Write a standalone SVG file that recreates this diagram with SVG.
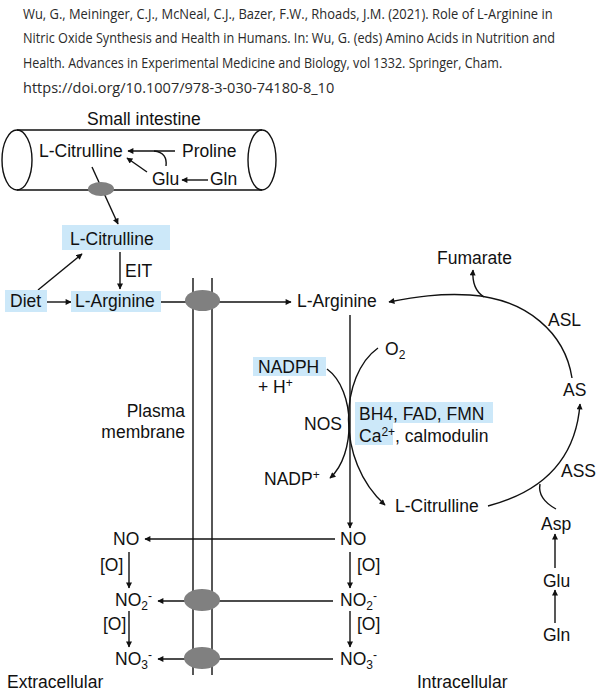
<svg xmlns="http://www.w3.org/2000/svg" width="598" height="700" viewBox="0 0 598 700">
<style>
.cit{font-family:"Open Sans","Liberation Sans",sans-serif;font-size:15px;fill:#2a2a2a}
.t{font-family:"Liberation Sans",Arial,sans-serif;font-size:17.5px;fill:#111}
.ln{fill:none;stroke:#111;stroke-width:1.4}
.ar{fill:none;stroke:#111;stroke-width:1.4;marker-end:url(#ah)}
.hl{fill:#cce8f9}
.tp{fill:#808080}
.sub{font-size:12px}
</style>
<defs>
<marker id="ah" viewBox="0 0 10 10" refX="9" refY="5" markerWidth="7" markerHeight="6" markerUnits="userSpaceOnUse" orient="auto">
<path d="M0,0 L10,5 L0,10 z" fill="#111"/>
</marker>
</defs>
<rect width="598" height="700" fill="#fff"/>

<g id="citation" transform="translate(23,0) scale(0.8,1)">
<text class="cit" x="0" y="18.7" textLength="662" lengthAdjust="spacingAndGlyphs">Wu, G., Meininger, C.J., McNeal, C.J., Bazer, F.W., Rhoads, J.M. (2021). Role of L-Arginine in</text>
<text class="cit" x="0" y="43.5" textLength="665" lengthAdjust="spacingAndGlyphs">Nitric Oxide Synthesis and Health in Humans. In: Wu, G. (eds) Amino Acids in Nutrition and</text>
<text class="cit" x="0" y="68.3" textLength="599" lengthAdjust="spacingAndGlyphs">Health. Advances in Experimental Medicine and Biology, vol 1332. Springer, Cham.</text>
<text class="cit" x="0" y="93.2" textLength="389" lengthAdjust="spacingAndGlyphs">https://doi.org/10.1007/978-3-030-74180-8_10</text>
</g>

<g id="connectors">
<path class="ar" d="M175,151 L128,151"/>
<path class="ln" d="M166,166 C167,158 164,152 154,151"/>
<path class="ar" d="M147,172 L127,158"/>
<path class="ar" d="M208,180 L182,180"/>
<path class="ar" d="M92,167 L118,224"/>
<path class="ar" d="M38,290 L82,254"/>
<path class="ar" d="M120,252 L120,289"/>
<path class="ar" d="M47,302 L71,302"/>
<path class="ar" d="M161,302 L291,302"/>
<path class="ar" d="M572,378 C565,333 527,299 470,295 C440,293 415,297 389,302"/>
<path class="ar" d="M484,297 C476,292 472,284 473,270"/>
<path class="ar" d="M350,315 L350,528"/>
<path class="ar" d="M327,369 C356,390 356,455 330,478"/>
<path class="ar" d="M378,348 C340,375 335,460 385,505"/>
<path class="ar" d="M488,506 C530,495 575,470 580,404"/>
<path class="ln" d="M540,484 C538,495 545,503 556,509"/>
<path class="ar" d="M555,568 L555,534"/>
<path class="ar" d="M555,623 L555,590"/>
<path class="ar" d="M335,539 L145,539"/>
<path class="ar" d="M333,601 L158,601"/>
<path class="ar" d="M333,659 L158,659"/>
<path class="ar" d="M129,552 L129,588"/>
<path class="ar" d="M129,611 L129,647"/>
<path class="ar" d="M350,552 L350,588"/>
<path class="ar" d="M350,611 L350,647"/>
</g>

<g id="small-intestine">
<ellipse class="ln" cx="17" cy="160" rx="15" ry="30"/>
<ellipse class="ln" cx="262" cy="160" rx="14" ry="30"/>
<path class="ln" d="M17,130 L262,130 M17,190 L262,190"/>
<ellipse class="tp" cx="101" cy="189" rx="13" ry="7"/>
<text class="t" x="87" y="125">Small intestine</text>
</g>
<g id="tube-citrulline"><text class="t" x="39" y="157">L-Citrulline</text></g>
<g id="proline"><text class="t" x="182" y="157">Proline</text></g>
<g id="tube-glu"><text class="t" x="152" y="185">Glu</text></g>
<g id="tube-gln"><text class="t" x="210" y="185">Gln</text></g>

<g id="citrulline-box"><rect class="hl" x="62" y="225" width="108" height="25"/><text class="t" x="70" y="245">L-Citrulline</text></g>
<g id="eit"><text class="t" x="125" y="277">EIT</text></g>
<g id="diet"><rect class="hl" x="5" y="290" width="42" height="22"/><text class="t" x="10" y="307">Diet</text></g>
<g id="arginine-box"><rect class="hl" x="71" y="291" width="90" height="21"/><text class="t" x="75" y="307">L-Arginine</text></g>

<g id="membrane">
<path class="ln" d="M193,278 L193,675 M212,278 L212,675"/>
<ellipse class="tp" cx="202.5" cy="300.5" rx="17.5" ry="10.5"/>
<ellipse class="tp" cx="202" cy="600" rx="18" ry="11"/>
<ellipse class="tp" cx="202" cy="658" rx="18" ry="11"/>
<text class="t" x="185" y="417" text-anchor="end">Plasma</text>
<text class="t" x="185" y="438" text-anchor="end">membrane</text>
</g>

<g id="arginine-in"><text class="t" x="297" y="307">L-Arginine</text></g>
<g id="fumarate"><text class="t" x="437" y="264">Fumarate</text></g>
<g id="asl"><text class="t" x="548" y="326">ASL</text></g>
<g id="as"><text class="t" x="563" y="396">AS</text></g>
<g id="ass"><text class="t" x="561" y="477">ASS</text></g>
<g id="o2"><text class="t" x="385" y="355">O<tspan class="sub" dy="4">2</tspan></text></g>
<g id="nadph"><rect class="hl" x="253" y="357" width="73" height="19"/><text class="t" x="258" y="373">NADPH</text><text class="t" x="258" y="393">+ H<tspan class="sub" dy="-6">+</tspan></text></g>
<g id="nos"><text class="t" x="304" y="430">NOS</text></g>
<g id="cofactors"><rect class="hl" x="355" y="402" width="138" height="21"/><rect class="hl" x="355" y="423" width="38" height="22"/>
<text class="t" x="359" y="420">BH4, FAD, FMN</text>
<text class="t" x="359" y="442">Ca<tspan class="sub" dy="-6">2+</tspan><tspan dy="6">, calmodulin</tspan></text></g>
<g id="nadp"><text class="t" x="264" y="485">NADP<tspan class="sub" dy="-6">+</tspan></text></g>
<g id="citrulline-in"><text class="t" x="395" y="512">L-Citrulline</text></g>
<g id="asp"><text class="t" x="541" y="530">Asp</text></g>
<g id="glu-in"><text class="t" x="543" y="587">Glu</text></g>
<g id="gln-in"><text class="t" x="543" y="641">Gln</text></g>

<g id="no-out"><text class="t" x="113" y="545">NO</text></g>
<g id="no-in"><text class="t" x="340" y="545">NO</text></g>
<g id="no2-out"><text class="t" x="115" y="606">NO<tspan class="sub" dy="4">2</tspan><tspan class="sub" dy="-10">-</tspan></text></g>
<g id="no2-in"><text class="t" x="340" y="606">NO<tspan class="sub" dy="4">2</tspan><tspan class="sub" dy="-10">-</tspan></text></g>
<g id="no3-out"><text class="t" x="115" y="665">NO<tspan class="sub" dy="4">3</tspan><tspan class="sub" dy="-10">-</tspan></text></g>
<g id="no3-in"><text class="t" x="340" y="665">NO<tspan class="sub" dy="4">3</tspan><tspan class="sub" dy="-10">-</tspan></text></g>
<g id="o-labels">
<text class="t" x="100" y="571">[O]</text>
<text class="t" x="103" y="630">[O]</text>
<text class="t" x="357" y="571">[O]</text>
<text class="t" x="357" y="630">[O]</text>
</g>
<g id="extracellular"><text class="t" x="7" y="688">Extracellular</text></g>
<g id="intracellular"><text class="t" x="417" y="688">Intracellular</text></g>
</svg>
